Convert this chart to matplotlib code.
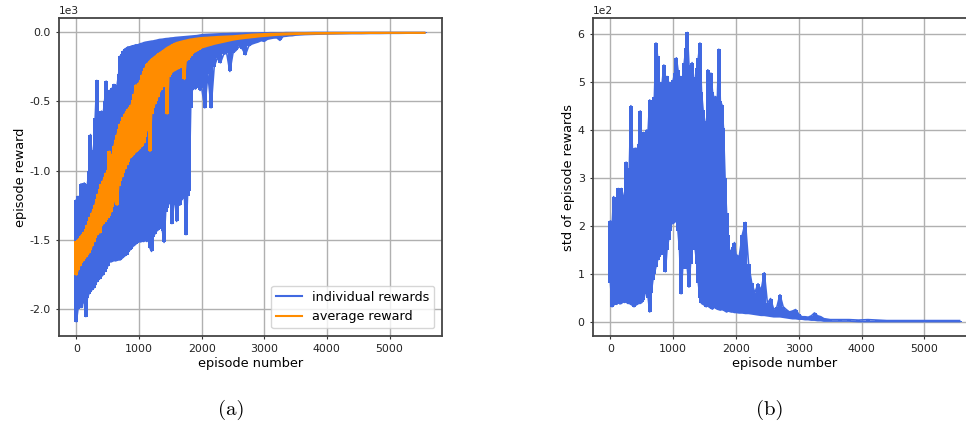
import matplotlib
matplotlib.use("Agg")
import matplotlib.pyplot as plt
from matplotlib.lines import Line2D

plt.rcParams['axes.unicode_minus'] = False

episodes = list(range(0, 2000, 25)) + list(range(2000, 3500, 50)) + list(range(3500, 5500, 150)) + [5560]

# (a) individual rewards: upper / lower envelope
reward_hi = [-1210, -1186, -1200, -1095, -1180, -1089, -1150, -1100, -1000, -739,
             -900, -850, -620, -348, -600, -667, -570, -600, -500, -353,
             -470, -420, -450, -400, -377, -420, -380, -300, -171, -160,
             -135, -120, -115, -105, -110, -100, -99, -95, -90, -92,
             -87, -82, -80, -75, -72, -70, -68, -66, -64, -63,
             -60, -58, -55, -52, -51, -50, -48, -46, -45, -44,
             -42, -41, -40, -38, -37, -36, -35, -34, -33, -32,
             -31, -30, -29, -28, -27, -26, -25, -24, -22, -20,
             -18, -16, -15, -14, -13, -12, -11, -10, -10, -9,
             -8, -8, -7, -7, -6, -6, -5, -5, -5, -4,
             -4, -4, -3, -3, -3, -3, -3, -2, -2, -2,
             -2, -2, -1, -1, -1, -1, -1, -1, -1, -1, -1, -1, -1, -1, -1]
reward_lo = [-2091, -2000, -1946, -1990, -1950, -1960, -2055, -1920, -1890, -1874,
             -1860, -1850, -1830, -1802, -1790, -1780, -1765, -1753, -1730, -1710,
             -1690, -1657, -1660, -1655, -1650, -1652, -1648, -1645, -1645, -1635,
             -1625, -1615, -1608, -1590, -1575, -1565, -1548, -1540, -1530, -1520,
             -1512, -1515, -1510, -1512, -1505, -1512, -1500, -1560, -1584, -1480,
             -1460, -1439, -1430, -1420, -1400, -1439, -1519, -1300, -1270, -1240,
             -1198, -1383, -1250, -1220, -1367, -1230, -1250, -1215, -1200, -1190,
             -1463, -1180, -1150, -546, -420, -400, -410, -390, -400, -420,
             -400, -546, -300, -546, -250, -184, -220, -160, -150, -283,
             -150, -130, -102, -120, -162, -100, -85, -77, -70, -60,
             -65, -50, -45, -41, -40, -58, -30, -28, -25, -24,
             -20, -16, -14, -12, -11, -10, -9, -9, -8, -8, -7, -7, -6, -6, -6]

# (a) average reward: upper / lower envelope
avg_hi = [-1512, -1500, -1490, -1470, -1460, -1445, -1425, -1395, -1365, -1335,
          -1305, -1275, -1245, -1205, -1170, -1130, -1100, -1075, -1045, -1020,
          -995, -860, -930, -880, -825, -775, -740, -700, -665, -640,
          -615, -590, -570, -555, -540, -525, -490, -445, -380, -390,
          -365, -345, -310, -280, -255, -230, -220, -205, -195, -185,
          -176, -168, -160, -150, -143, -135, -127, -118, -110, -104,
          -98, -92, -86, -80, -75, -72, -69, -66, -63, -60,
          -58, -55, -52, -50, -49, -47, -45, -44, -42, -41,
          -40, -38, -37, -35, -34, -32, -31, -30, -29, -28,
          -27, -25, -23, -21, -19, -17, -15, -14, -13, -12,
          -11, -10, -9, -9, -8, -8, -7, -7, -6, -6,
          -5, -5, -4, -4, -3, -3, -3, -3, -2, -2, -2, -2, -2, -2, -2]
avg_lo = [-1753, -1720, -1690, -1670, -1655, -1640, -1625, -1610, -1595, -1575,
          -1545, -1515, -1488, -1465, -1440, -1450, -1400, -1385, -1370, -1355,
          -1340, -1325, -1300, -1260, -1225, -1185, -1250, -1110, -1075, -1045,
          -1015, -985, -960, -935, -910, -900, -890, -875, -865, -855,
          -845, -830, -820, -800, -755, -710, -665, -860, -590, -550,
          -520, -495, -465, -435, -415, -395, -375, -355, -590, -320,
          -305, -290, -280, -275, -268, -262, -256, -245, -235, -340,
          -210, -200, -185, -170, -155, -145, -140, -133, -125, -118,
          -111, -105, -98, -92, -85, -80, -75, -70, -65, -60,
          -55, -51, -48, -45, -42, -40, -37, -35, -32, -30,
          -28, -26, -24, -22, -20, -19, -18, -17, -16, -15,
          -14, -12, -11, -10, -9, -8, -7, -7, -6, -6, -5, -5, -5, -5, -5]

# (b) std of episode rewards: upper / lower envelope
std_hi = [210, 195, 261, 250, 240, 278, 230, 278, 265, 250,
          333, 310, 320, 451, 359, 361, 362, 360, 370, 440,
          338, 395, 388, 400, 399, 463, 420, 463, 470, 582,
          554, 500, 449, 500, 536, 508, 512, 500, 484, 495,
          505, 520, 551, 526, 512, 510, 512, 540, 571, 604,
          536, 520, 541, 510, 498, 530, 551, 582, 480, 442,
          420, 365, 526, 500, 519, 480, 467, 470, 452, 569,
          460, 453, 404, 300, 226, 180, 132, 150, 156, 165,
          140, 135, 181, 207, 120, 80, 60, 79, 65, 102,
          38, 48, 25, 30, 56, 31, 25, 20, 22, 25,
          15, 10, 10, 9, 12, 18, 12, 10, 6, 5,
          4, 4, 4, 3, 4, 3, 2, 2, 2, 2, 2, 2, 2, 2, 2]
std_lo = [80, 31, 34, 38, 36, 40, 37, 38, 41, 40,
          41, 38, 38, 36, 34, 31, 34, 36, 38, 38,
          40, 45, 58, 62, 50, 20, 60, 86, 100, 115,
          128, 135, 140, 149, 140, 104, 150, 170, 190, 205,
          205, 208, 212, 190, 150, 58, 110, 121, 130, 110,
          72, 120, 160, 191, 150, 121, 80, 50, 38, 36,
          34, 31, 33, 30, 28, 26, 30, 28, 26, 25,
          24, 25, 24, 22, 20, 22, 21, 20, 20, 19,
          19, 18, 18, 17, 17, 16, 15, 14, 13, 13,
          12, 11, 10, 10, 10, 9, 8, 7, 6, 6,
          5, 5, 4, 4, 3, 3, 2, 2, 1, 1,
          1, 1, 1, 0, 0, 0, 0, 0, 0, 0, 0, 0, 0, 0, 0]

blue = 'royalblue'
orange = 'darkorange'

W, H = 966, 423
fig = plt.figure(figsize=(W / 100, H / 100), dpi=100)

ax_a = fig.add_axes([59 / W, 1 - 336 / H, 383 / W, 318 / H])
ax_b = fig.add_axes([593 / W, 1 - 336 / H, 384 / W, 318 / H])


def noisy(ax, lo, hi, color, z):
    # spread of a noisy series: vertical strokes plus its two edges
    ax.vlines(episodes, lo, hi, color=color, linewidth=1.5, antialiased=False, zorder=z)
    ax.plot(episodes, hi, color=color, linewidth=1.2, zorder=z)
    ax.plot(episodes, lo, color=color, linewidth=1.2, zorder=z)


def style(ax):
    ax.grid(True, color='#b0b0b0', linewidth=1.0)
    ax.set_axisbelow(True)
    for s in ax.spines.values():
        s.set_color('#444444')
        s.set_linewidth(1.3)
    ax.tick_params(labelsize=7.9, length=2.5, width=0.8, colors='#333333', labelcolor='#222222')
    ax.set_xticks([0, 1000, 2000, 3000, 4000, 5000])
    ax.ticklabel_format(axis='y', style='sci', scilimits=(0, 0))
    ax.yaxis.get_offset_text().set_fontsize(7.7)
    ax.set_xlabel('episode number', fontsize=9.3, labelpad=2)


# (a)
noisy(ax_a, reward_lo, reward_hi, blue, 2)
noisy(ax_a, avg_lo, avg_hi, orange, 3)
style(ax_a)
ax_a.set_yticks([-2000, -1500, -1000, -500, 0])
ax_a.set_ylabel('episode reward', fontsize=9.3, labelpad=2)
handles = [Line2D([], [], color=blue, lw=1.5), Line2D([], [], color=orange, lw=1.5)]
ax_a.legend(handles, ['individual rewards', 'average reward'], loc='lower right',
            fontsize=9.2, borderaxespad=0.6)

# (b)
noisy(ax_b, std_lo, std_hi, blue, 2)
style(ax_b)
ax_b.set_yticks([0, 100, 200, 300, 400, 500, 600])
ax_b.set_ylabel('std of episode rewards', fontsize=9.3, labelpad=2)

fig.text(231 / W, 1 - 410 / H, '(a)', ha='center', va='center', fontsize=15, family='cmr10')
fig.text(770 / W, 1 - 410 / H, '(b)', ha='center', va='center', fontsize=15, family='cmr10')

fig.savefig('out.png', dpi=100)
